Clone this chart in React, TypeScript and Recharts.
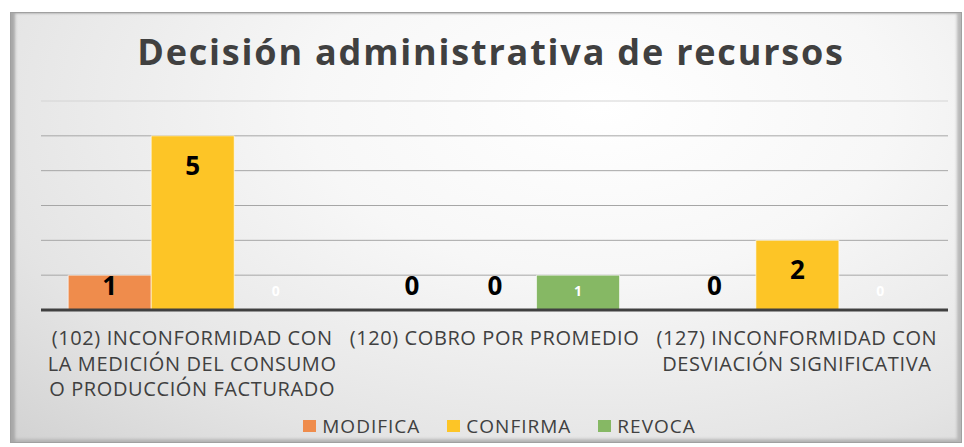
import { BarChart, Bar, XAxis, YAxis, CartesianGrid, Legend, LabelList } from "recharts"

const categories = [
  "(102) INCONFORMIDAD CON\nLA MEDICIÓN DEL CONSUMO\nO PRODUCCIÓN FACTURADO",
  "(120) COBRO POR PROMEDIO",
  "(127) INCONFORMIDAD CON\nDESVIACIÓN SIGNIFICATIVA",
]
const modifica = [1, 0, 0]
const confirma = [5, 0, 2]
const revoca = [0, 1, 0]
const yTicks = [0, 1, 2, 3, 4, 5, 6]

const series = [
  { key: "modifica", name: "MODIFICA", color: "#EF8C4C" },
  { key: "confirma", name: "CONFIRMA", color: "#FDC526" },
  { key: "revoca", name: "REVOCA", color: "#86B864" },
]

const data = categories.map((name, i) => ({
  name,
  modifica: modifica[i],
  confirma: confirma[i],
  revoca: revoca[i],
}))

const FONT = "'Open Sans', 'DejaVu Sans', sans-serif"

const DarkLabel = (props: any) => {
  const { x, y, width, height, value } = props
  const cy = Math.min(y + 29, y + height - 25)
  return (
    <text
      x={x + width / 2}
      y={cy}
      textAnchor="middle"
      dominantBaseline="central"
      fontFamily={FONT}
      fontWeight="bold"
      fontSize={26}
      fill="#000"
    >
      {value}
    </text>
  )
}

const LightLabel = (props: any) => {
  const { x, y, width, height, value } = props
  return (
    <text
      x={x + width / 2}
      y={y + height - 20}
      textAnchor="middle"
      dominantBaseline="central"
      fontFamily={FONT}
      fontWeight="bold"
      fontSize={14}
      fill="#fff"
    >
      {value}
    </text>
  )
}

const CategoryTick = ({ x, y, payload }: any) => {
  const lines = String(payload.value).split("\n")
  return (
    <g transform={`translate(${x},${y})`}>
      {lines.map((line, i) => (
        <text
          key={i}
          x={0}
          y={27 + i * 25.5}
          textAnchor="middle"
          fontFamily={FONT}
          fontSize={20}
          letterSpacing={0.6}
          fill="#404040"
        >
          {line}
        </text>
      ))}
    </g>
  )
}

const GridLine = (props: any) => {
  const { x1, x2, y1, y2, index } = props
  const top = index === yTicks.length - 1
  return <line x1={x1} x2={x2} y1={y1} y2={y2} stroke={top ? "#d4d4d4" : "#a6a6a6"} strokeWidth={1} />
}

const LegendContent = () => (
  <div
    style={{
      display: "flex",
      justifyContent: "center",
      gap: 27,
      fontFamily: FONT,
      fontSize: 19,
      letterSpacing: 1,
      color: "#404040",
      paddingLeft: 10,
      paddingTop: 3,
    }}
  >
    {series.map((s) => (
      <div key={s.key} style={{ display: "flex", alignItems: "center", gap: 6 }}>
        <span style={{ width: 13, height: 12, background: s.color, display: "inline-block" }} />
        <span>{s.name}</span>
      </div>
    ))}
  </div>
)

export default function App() {
  return (
    <div style={{ position: "absolute", left: 0, top: 0, width: 964, height: 447, background: "#fff" }}>
      <div
        style={{
          position: "absolute",
          left: 10,
          top: 12,
          width: 952,
          height: 431,
          boxSizing: "border-box",
          border: "1px solid #a0a0a0",
          boxShadow:
            "inset 5px 0 3px -1px #a8a8a8, inset -5px 0 3px -1px #b8b8b8, inset 0 -4px 3px -1px #b8b8b8, inset 0 2px 2px -1px #c8c8c8",
          background: "radial-gradient(ellipse at 62% 22%, #ffffff 0%, #f7f7f7 35%, #e4e4e4 75%, #d2d2d2 100%)",
        }}
      />
      <div
        style={{
          position: "absolute",
          left: 0,
          top: 30,
          width: 982,
          textAlign: "center",
          fontFamily: FONT,
          fontWeight: "bold",
          fontSize: 36,
          letterSpacing: 1.8,
          color: "#404040",
          lineHeight: "44px",
        }}
      >
        Decisión administrativa de recursos
      </div>
      <div style={{ position: "absolute", left: 0, top: 0 }}>
        <BarChart
          width={964}
          height={447}
          data={data}
          margin={{ top: 101, right: 16, left: 41, bottom: 7 }}
          barCategoryGap="9%"
          barGap={0}
        >
          <CartesianGrid vertical={false} horizontal={<GridLine />} />
          <YAxis hide domain={[0, 6]} ticks={yTicks} />
          <XAxis
            dataKey="name"
            height={100}
            interval={0}
            tick={<CategoryTick />}
            tickLine={false}
            axisLine={{ stroke: "#404040", strokeWidth: 3 }}
          />
          <Legend verticalAlign="bottom" height={30} content={<LegendContent />} />
          <Bar dataKey="modifica" name="MODIFICA" fill="#EF8C4C" stroke="#ffffff" strokeOpacity={0.6} minPointSize={1} isAnimationActive={false}>
            <LabelList dataKey="modifica" content={<DarkLabel />} />
          </Bar>
          <Bar dataKey="confirma" name="CONFIRMA" fill="#FDC526" stroke="#ffffff" strokeOpacity={0.6} minPointSize={1} isAnimationActive={false}>
            <LabelList dataKey="confirma" content={<DarkLabel />} />
          </Bar>
          <Bar dataKey="revoca" name="REVOCA" fill="#86B864" stroke="#ffffff" strokeOpacity={0.6} minPointSize={1} isAnimationActive={false}>
            <LabelList dataKey="revoca" content={<LightLabel />} />
          </Bar>
        </BarChart>
      </div>
    </div>
  )
}
